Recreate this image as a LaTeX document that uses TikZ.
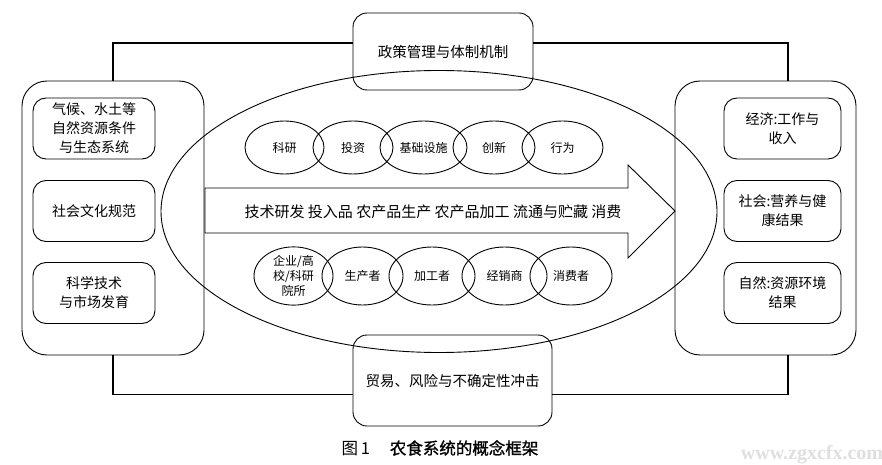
\documentclass[tikz,border=0pt]{standalone}
\usepackage{fontspec}
\setmainfont{Noto Sans CJK SC}
\newfontfamily\capfont[FakeBold=1.2]{Noto Sans CJK SC}
\newfontfamily\wmfont{Liberation Serif}
\usetikzlibrary{shapes.geometric}
\begin{document}
\begin{tikzpicture}[x=1pt,y=-1pt,
  line width=0.9pt,
  outerbox/.style={draw, rounded corners=25pt, minimum width=182pt, minimum height=274pt, inner sep=0pt},
  innerbox/.style={draw, rounded corners=13pt, minimum height=61pt, inner sep=0pt, align=center,
     font=\fontsize{14}{19}\selectfont},
  midbox/.style={draw, rounded corners=14pt, inner sep=0pt, align=center,
     font=\fontsize{14.5}{18}\selectfont},
  smallell/.style={draw, ellipse, inner sep=0pt, align=center, font=\fontsize{12}{15}\selectfont},
  frameline/.style={line width=1.3pt}
]
\useasboundingbox (0,0) rectangle (882,465);

% outer boxes
\node[outerbox] (L) at (113,218) {};
\node[outerbox, minimum width=181pt] (R) at (765.5,218) {};

% left inner boxes
\node[innerbox, minimum width=122pt] (L1) at (94,128.5) {气候、水土等\\自然资源条件\\与生态系统};
\node[innerbox, minimum width=122pt] (L2) at (94,211) {社会文化规范};
\node[innerbox, minimum width=122pt] (L3) at (94,293) {科学技术\\与市场发育};

% right inner boxes
\node[innerbox, minimum width=117pt] (R1) at (782.5,128.5) {经济:工作与\\收入};
\node[innerbox, minimum width=117pt] (R2) at (782.5,211) {社会:营养与健\\康结果};
\node[innerbox, minimum width=117pt] (R3) at (782.5,293) {自然:资源环境\\结果};

% top and bottom boxes
\node[midbox, minimum width=180pt, minimum height=77pt] (T) at (443,51.5) {政策管理与体制机制};
\node[midbox, minimum width=199pt, minimum height=91pt] (B) at (452.5,380.5) {贸易、风险与不确定性冲击};

% frame lines
\coordinate (tl) at (113,43);
\coordinate (tr) at (788,43);
\coordinate (bl) at (113,394.5);
\coordinate (br) at (788,394.5);
\draw[frameline] (L.north) -- (tl) -- (tl -| T.west);
\draw[frameline] (T.east |- tr) -- (tr) -- (tr |- R.north);
\draw[frameline] (L.south) -- (bl) -- (bl -| B.west);
\draw[frameline] (B.east |- br) -- (br) -- (br |- R.south);

% big ellipse
\draw (439,211.5) ellipse [x radius=278pt, y radius=141pt];

% arrow
\draw (205,188) -- (628,188) -- (628,165) -- (675,211) -- (628,258) -- (628,233) -- (205,233) -- cycle;
\node[font=\fontsize{15}{18}\selectfont, inner sep=0pt] (A) at (433,212) {技术研发 投入品 农产品生产 农产品加工 流通与贮藏 消费};

% top ellipses
\node[smallell, minimum width=79pt, minimum height=53pt] (e1) at (284.5,147.5) {科研};
\node[smallell, minimum width=80pt, minimum height=53pt] (e2) at (353,147.5) {投资};
\node[smallell, minimum width=87pt, minimum height=53pt] (e3) at (423.5,147.5) {基础设施};
\node[smallell, minimum width=82pt, minimum height=53pt] (e4) at (494,147.5) {创新};
\node[smallell, minimum width=81pt, minimum height=53pt] (e5) at (562.5,147.5) {行为};

% bottom ellipses
\node[smallell, minimum width=79pt, minimum height=58pt] (f1) at (293.5,276) {企业/高\\校/科研\\院所};
\node[smallell, minimum width=81pt, minimum height=58pt] (f2) at (362.5,276) {生产者};
\node[smallell, minimum width=86pt, minimum height=58pt] (f3) at (432,276) {加工者};
\node[smallell, minimum width=85pt, minimum height=58pt] (f4) at (504.5,276) {经销商};
\node[smallell, minimum width=82pt, minimum height=58pt] (f5) at (571,276) {消费者};

% caption
\node[font=\fontsize{16.5}{18}\selectfont, inner sep=0pt] (cap) at (440,448) {图\,1\hspace{1.2em}{\capfont 农食系统的概念框架}};

% watermark
\node[font=\wmfont\bfseries\fontsize{20}{22}\selectfont, text=gray!25, inner sep=0pt] (wm) at (812,455) {www.zgxcfx.com};
\end{tikzpicture}
\end{document}
